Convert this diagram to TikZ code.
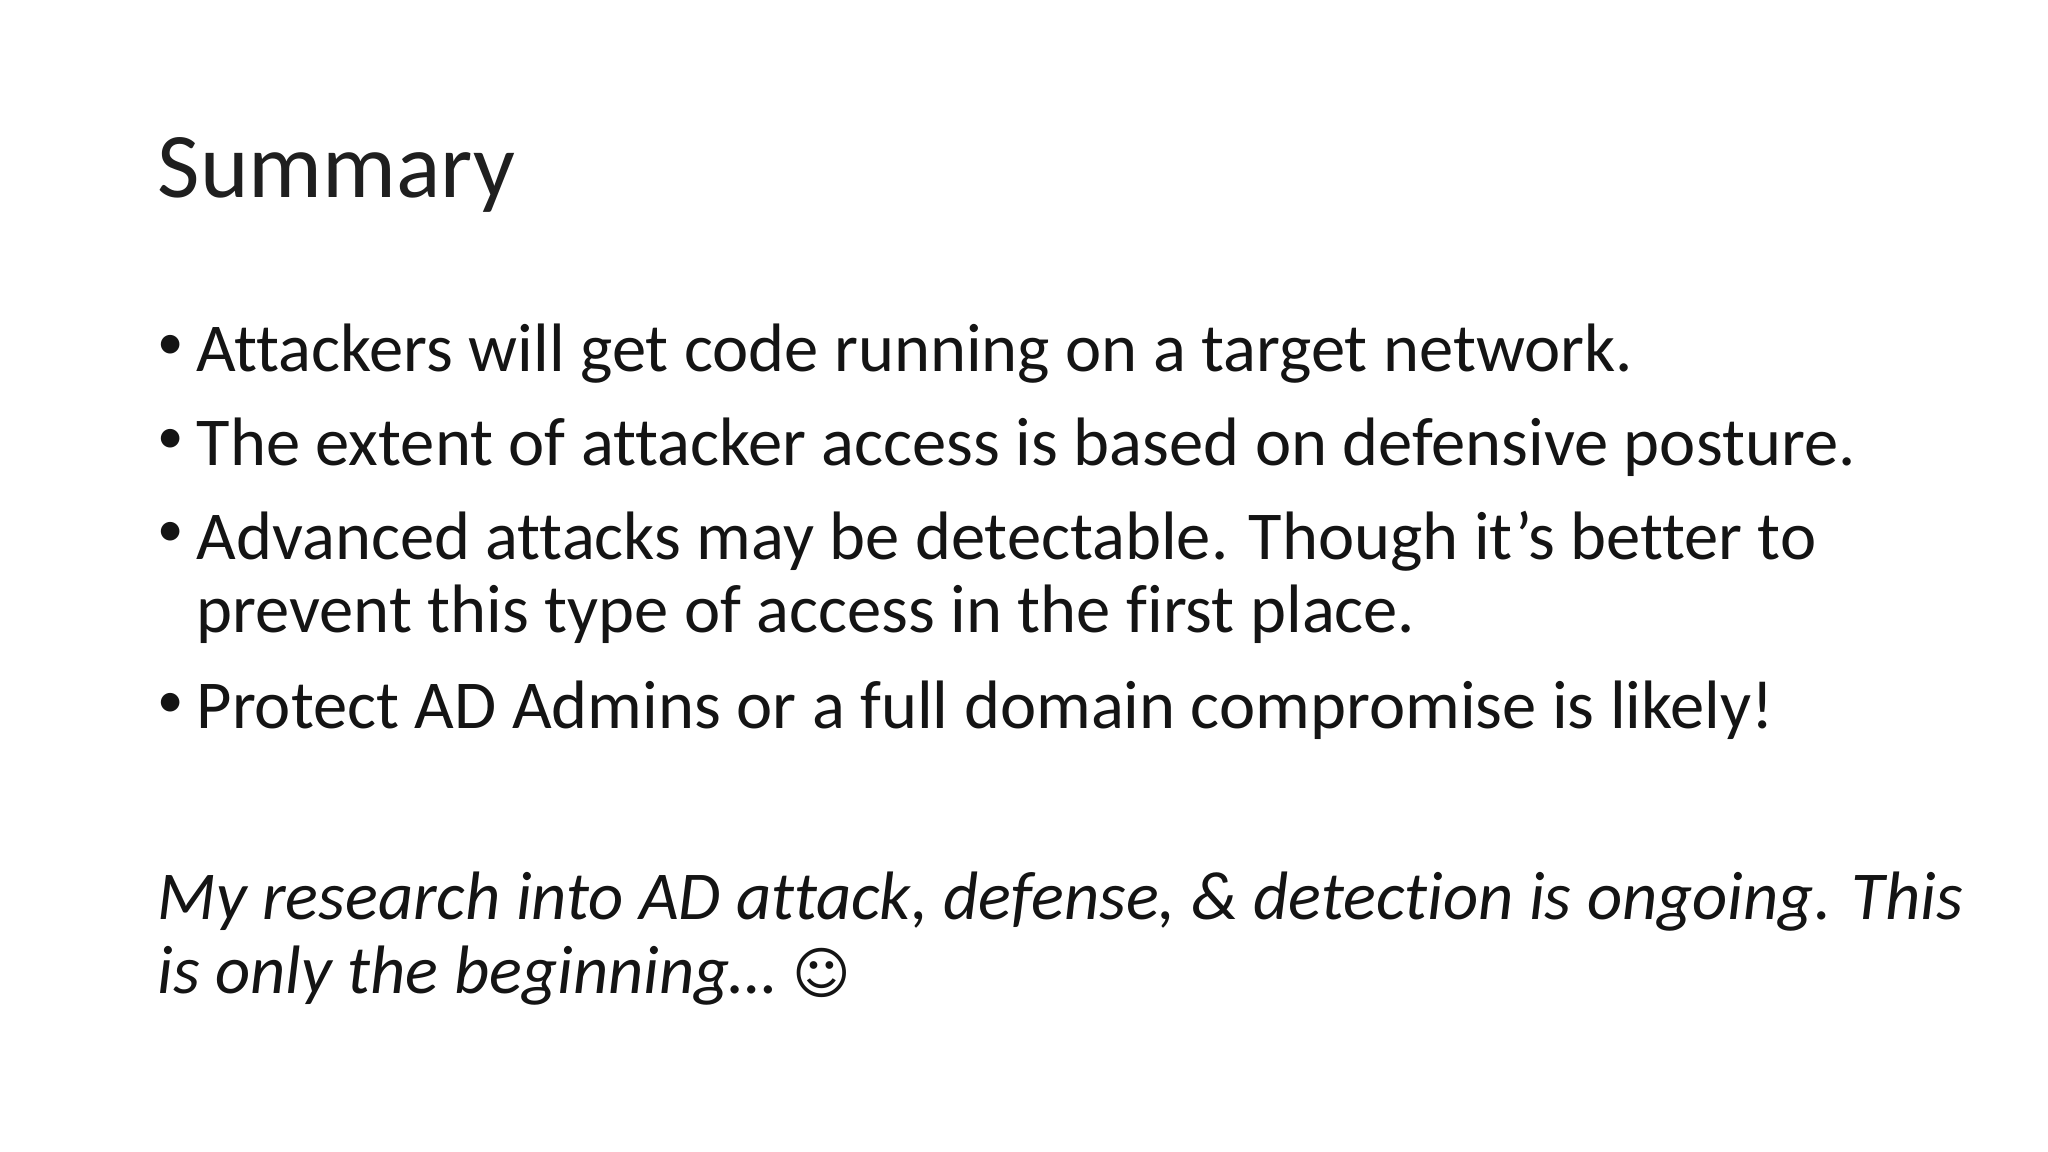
\documentclass[tikz,border=0pt]{standalone}
\usepackage{fontspec}
\setmainfont[Ligatures=NoCommon]{Carlito}
\newfontfamily\symfont{DejaVu Sans}
\begin{document}
\begin{tikzpicture}[x=1cm,y=1cm,
  txt/.style={anchor=base west,inner sep=0pt,text=black!92,font=\fontsize{19.5pt}{24pt}\selectfont},
  bul/.style={anchor=base west,inner sep=0pt,text=black!92,font=\fontsize{15pt}{24pt}\selectfont}]
\useasboundingbox[fill=white] (0,0) rectangle (20.48,-11.52);
\node[anchor=base west,inner sep=0pt,text=black!88,font=\fontsize{26.3pt}{30pt}\selectfont] (title) at (1.57,-1.98) {Summary};
\node[bul] (b1) at (1.57,-3.60) {•};
\node[txt] (t1) at (1.96,-3.72) {Attackers will get code running on a target network.};
\node[bul] (b2) at (1.57,-4.54) {•};
\node[txt] (t2) at (1.96,-4.66) {The extent of attacker access is based on defensive posture.};
\node[bul] (b3) at (1.57,-5.47) {•};
\node[txt] (t3) at (1.96,-5.59) {Advanced attacks may be detectable. Though it’s better to};
\node[txt] (t3b) at (1.96,-6.33) {prevent this type of access in the first place.};
\node[bul] (b4) at (1.57,-7.17) {•};
\node[txt] (t4) at (1.96,-7.29) {Protect AD Admins or a full domain compromise is likely!};
\node[txt,font=\fontsize{19.5pt}{24pt}\selectfont\itshape] (i1) at (1.57,-9.19) {My research into AD attack, defense, \& detection is ongoing. This};
\node[txt,font=\fontsize{19.5pt}{24pt}\selectfont\itshape] (i2) at (1.57,-9.93) {is only the beginning… {\symfont\fontsize{16pt}{20pt}\selectfont ☺}};
\end{tikzpicture}
\end{document}
